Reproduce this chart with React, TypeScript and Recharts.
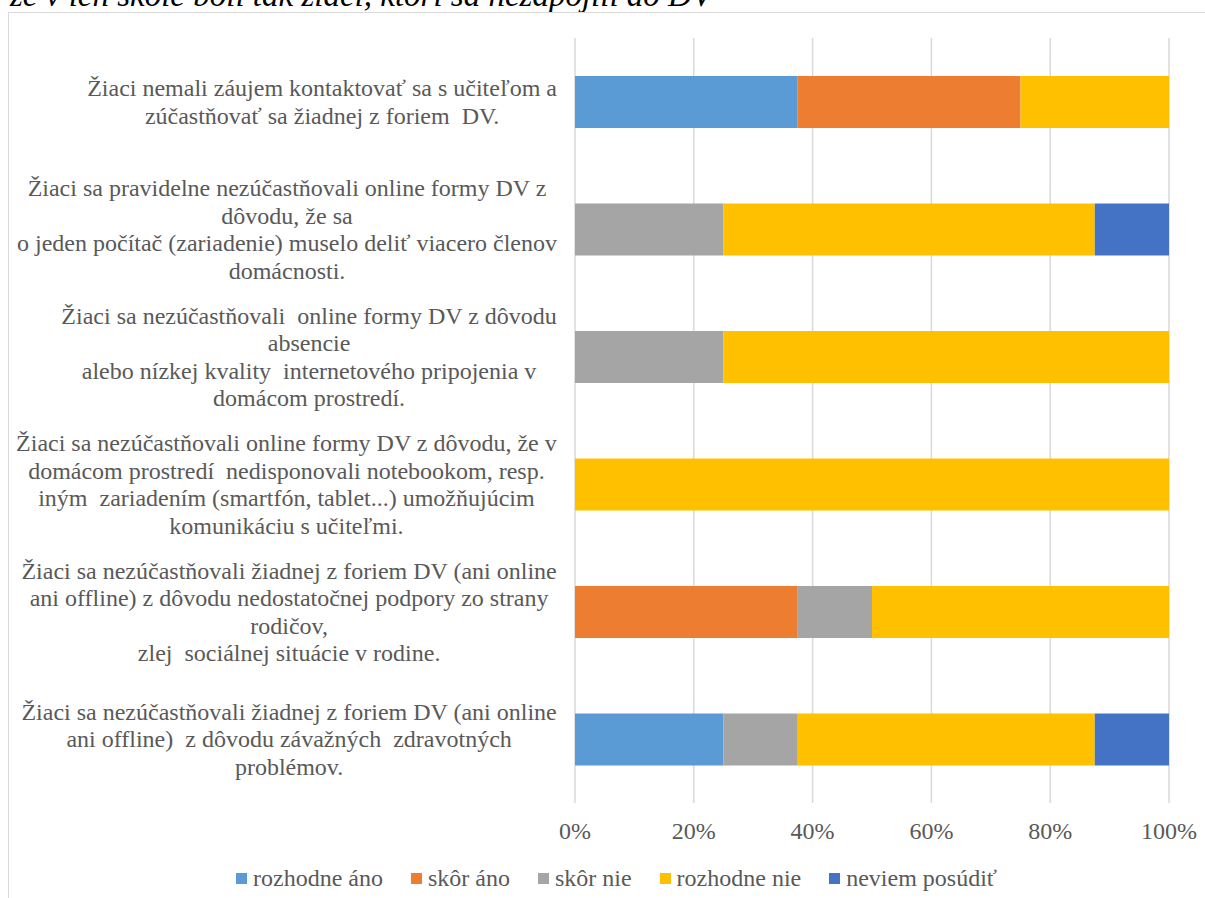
import React from 'react';
import { BarChart, Bar, XAxis, YAxis, CartesianGrid } from 'recharts';

const categories = [
  'Žiaci nemali záujem kontaktovať sa s učiteľom a\nzúčastňovať sa žiadnej z foriem  DV.',
  'Žiaci sa pravidelne nezúčastňovali online formy DV z\ndôvodu, že sa\no jeden počítač (zariadenie) muselo deliť viacero členov\ndomácnosti.',
  'Žiaci sa nezúčastňovali  online formy DV z dôvodu\nabsencie\nalebo nízkej kvality  internetového pripojenia v\ndomácom prostredí.',
  'Žiaci sa nezúčastňovali online formy DV z dôvodu, že v\ndomácom prostredí  nedisponovali notebookom, resp.\niným  zariadením (smartfón, tablet...) umožňujúcim\nkomunikáciu s učiteľmi.',
  'Žiaci sa nezúčastňovali žiadnej z foriem DV (ani online\nani offline) z dôvodu nedostatočnej podpory zo strany\nrodičov,\nzlej  sociálnej situácie v rodine.',
  'Žiaci sa nezúčastňovali žiadnej z foriem DV (ani online\nani offline)  z dôvodu závažných  zdravotných\nproblémov.',
];

const rozhodneAno = [37.5, 0, 0, 0, 0, 25];
const skorAno = [37.5, 0, 0, 0, 37.5, 0];
const skorNie = [0, 25, 25, 0, 12.5, 12.5];
const rozhodneNie = [25, 62.5, 75, 100, 50, 50];
const neviemPosudit = [0, 12.5, 0, 0, 0, 12.5];

const xTicks = [0, 20, 40, 60, 80, 100];

const series = [
  { key: 'rozhodneAno', name: 'rozhodne áno', values: rozhodneAno, color: '#5B9BD5' },
  { key: 'skorAno', name: 'skôr áno', values: skorAno, color: '#ED7D31' },
  { key: 'skorNie', name: 'skôr nie', values: skorNie, color: '#A5A5A5' },
  { key: 'rozhodneNie', name: 'rozhodne nie', values: rozhodneNie, color: '#FFC000' },
  { key: 'neviemPosudit', name: 'neviem posúdiť', values: neviemPosudit, color: '#4472C4' },
];

const data = categories.map((label, i) => {
  const row: Record<string, string | number> = { label };
  series.forEach((s) => {
    row[s.key] = s.values[i];
  });
  return row;
});

const FONT = '"Liberation Serif", "Times New Roman", serif';
const LABEL_SIZE = 24;
const LINE_H = 27.5;

let measureCtx: CanvasRenderingContext2D | null = null;
function textWidth(t: string) {
  if (!measureCtx) {
    measureCtx = document.createElement('canvas').getContext('2d');
  }
  if (!measureCtx) return t.length * 10;
  measureCtx.font = `${LABEL_SIZE}px ${FONT}`;
  return measureCtx.measureText(t).width;
}

// category labels: each block is centred on itself and right-aligned to the axis
function CategoryTick(props: any) {
  const { x, y, payload } = props;
  const lines: string[] = String(payload.value).split('\n');
  const maxW = Math.max(...lines.map(textWidth));
  const cx = x - maxW / 2;
  return (
    <g>
      {lines.map((line, i) => (
        <text
          key={i}
          x={cx}
          y={y + (i - (lines.length - 1) / 2) * LINE_H}
          textAnchor="middle"
          dominantBaseline="central"
          fontFamily={FONT}
          fontSize={LABEL_SIZE}
          fill="#595959"
          style={{ whiteSpace: 'pre' }}
        >
          {line}
        </text>
      ))}
    </g>
  );
}

export default function App() {
  return (
    <div
      style={{
        position: 'absolute',
        left: 0,
        top: 0,
        width: 1205,
        height: 898,
        overflow: 'hidden',
        background: '#fff',
        fontFamily: FONT,
      }}
    >
      <svg width={1205} height={30} style={{ position: 'absolute', left: 0, top: 0 }}>
        <text x={10} y={6} fontFamily={FONT} fontSize={33} fontStyle="italic" fill="#000">
          že v ich škole boli tak žiaci, ktorí sa nezapojili do DV
        </text>
      </svg>
      <div
        style={{
          position: 'absolute',
          left: 8,
          top: 12,
          width: 1210,
          height: 900,
          border: '1.5px solid #d9d9d9',
        }}
      />
      <div style={{ position: 'absolute', left: 0, top: 0 }}>
        <BarChart
          width={1205}
          height={898}
          data={data}
          layout="vertical"
          margin={{ top: 38, right: 36, left: 0, bottom: 55 }}
        >
          <CartesianGrid horizontal={false} stroke="#d9d9d9" strokeWidth={1.5} />
          <XAxis
            type="number"
            domain={[0, 100]}
            ticks={xTicks}
            tickFormatter={(v) => `${v}%`}
            axisLine={false}
            tickLine={false}
            height={40}
            tick={{ fontSize: 24, fill: '#595959', fontFamily: FONT }}
            tickMargin={13}
          />
          <YAxis
            type="category"
            dataKey="label"
            width={575}
            axisLine={false}
            tickLine={false}
            tick={<CategoryTick />}
            tickMargin={12}
            interval={0}
          />
          {series.map((s) => (
            <Bar
              key={s.key}
              dataKey={s.key}
              name={s.name}
              stackId="a"
              fill={s.color}
              barSize={52}
              isAnimationActive={false}
            />
          ))}
        </BarChart>
      </div>
      <div
        style={{
          position: 'absolute',
          top: 865,
          left: 236,
          display: 'flex',
          alignItems: 'center',
          fontSize: 24,
          color: '#595959',
          whiteSpace: 'nowrap',
        }}
      >
        {series.map((s) => (
          <div key={s.key} style={{ display: 'flex', alignItems: 'center', marginRight: 28 }}>
            <span style={{ width: 11, height: 11, background: s.color, marginRight: 6, display: 'inline-block' }} />
            <span>{s.name}</span>
          </div>
        ))}
      </div>
    </div>
  );
}
